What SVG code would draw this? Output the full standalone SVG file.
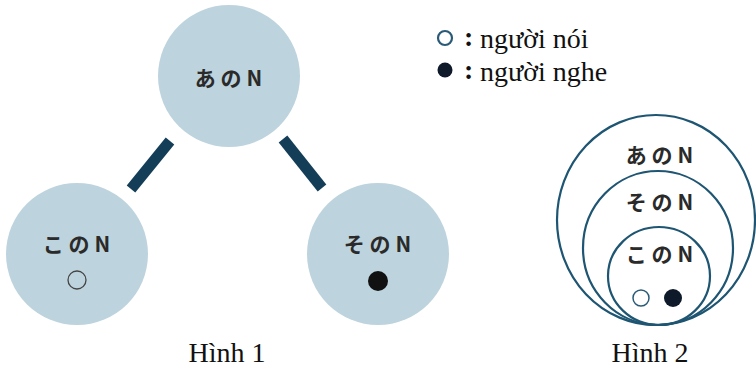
<svg xmlns="http://www.w3.org/2000/svg" width="756" height="370" viewBox="0 0 756 370">
<style>
.node{fill:#bdd3dd}
.jp{font-family:"Noto Sans CJK JP","Noto Sans",sans-serif;font-weight:bold;font-size:21px;letter-spacing:5px;fill:#2a2a2a;text-anchor:middle}
.vn{font-family:"Liberation Serif",serif;font-size:28px;fill:#111}
.bar{stroke:#143d57;stroke-width:11;stroke-linecap:butt}
.ring{fill:none;stroke:#1e5572;stroke-width:2.2}
</style>
<rect width="756" height="370" fill="#fff"/>
<g id="connectors">
<line class="bar" x1="170" y1="141" x2="131" y2="189"/>
<line class="bar" x1="283" y1="139" x2="322" y2="188"/>
</g>
<g id="ano">
<circle class="node" cx="229" cy="76" r="71"/>
<text class="jp" x="231" y="86">あのN</text>
</g>
<g id="kono">
<circle class="node" cx="77" cy="254" r="71"/>
<text class="jp" x="79" y="252">このN</text>
<circle cx="77" cy="280" r="9" fill="none" stroke="#444" stroke-width="1.3"/>
</g>
<g id="sono">
<circle class="node" cx="378" cy="254" r="71"/>
<text class="jp" x="380" y="252">そのN</text>
<circle cx="378" cy="281" r="10" fill="#111"/>
</g>
<g id="legend">
<circle cx="445" cy="38" r="7" fill="none" stroke="#2a5a78" stroke-width="2.2"/>
<text class="vn" x="464" y="46" font-weight="bold" font-size="18">:</text>
<text class="vn" x="480" y="48">người nói</text>
<circle cx="445" cy="70" r="7.5" fill="#0e1a2a"/>
<text class="vn" x="464" y="79" font-weight="bold" font-size="18">:</text>
<text class="vn" x="480" y="81">người nghe</text>
</g>
<g id="fig2">
<ellipse class="ring" cx="656" cy="220" rx="99" ry="105"/>
<ellipse class="ring" cx="658" cy="248" rx="75" ry="77"/>
<ellipse class="ring" cx="659" cy="276" rx="51" ry="49"/>
<text class="jp" x="662" y="163">あのN</text>
<text class="jp" x="662" y="210">そのN</text>
<text class="jp" x="662" y="262">このN</text>
<circle cx="641" cy="298" r="8" fill="#fff" stroke="#2a5a78" stroke-width="1.5"/>
<circle cx="673" cy="298" r="9" fill="#0e1a2a"/>
</g>
<text class="vn" x="227" y="362" text-anchor="middle" font-size="27">Hình 1</text>
<text class="vn" x="650" y="362" text-anchor="middle" font-size="27">Hình 2</text>
</svg>
